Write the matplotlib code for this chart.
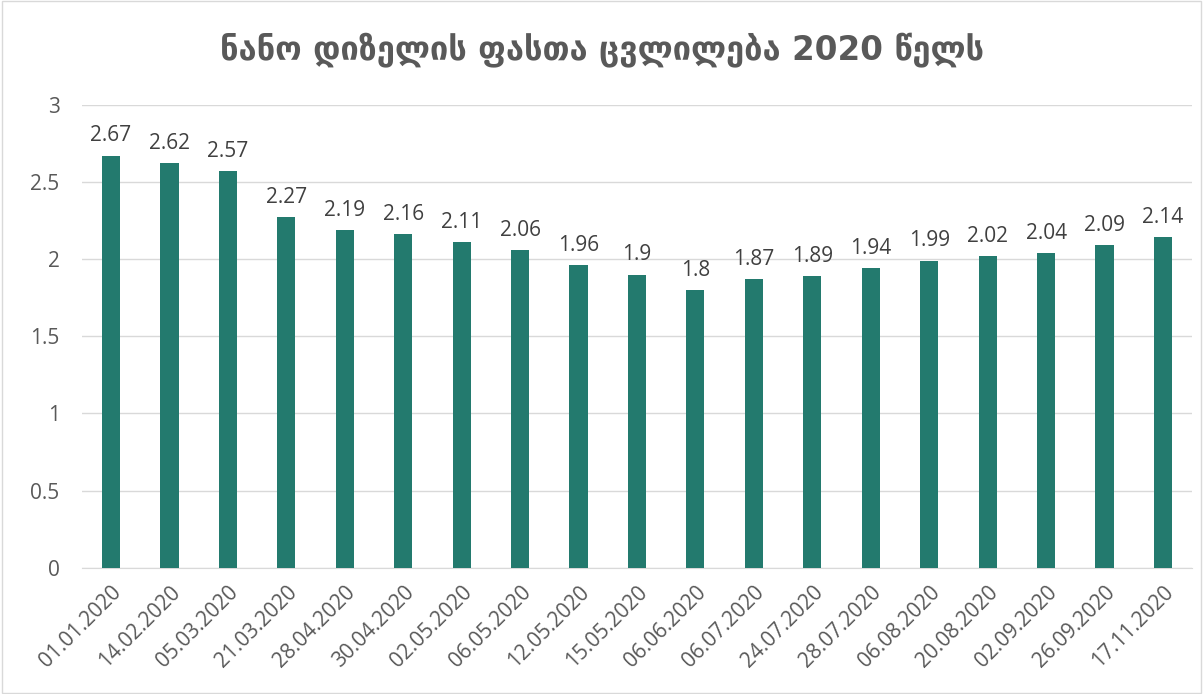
import matplotlib
matplotlib.use("Agg")
import matplotlib.pyplot as plt
import numpy as np

# dates and prices
dates = ['01.01.2020', '14.02.2020', '05.03.2020', '21.03.2020', '28.04.2020',
         '30.04.2020', '02.05.2020', '06.05.2020', '12.05.2020', '15.05.2020',
         '06.06.2020', '06.07.2020', '24.07.2020', '28.07.2020', '06.08.2020',
         '20.08.2020', '02.09.2020', '26.09.2020', '17.11.2020']
prices = [2.67, 2.62, 2.57, 2.27, 2.19, 2.16, 2.11, 2.06, 1.96, 1.9,
          1.8, 1.87, 1.89, 1.94, 1.99, 2.02, 2.04, 2.09, 2.14]
price_labels = ['2.67', '2.62', '2.57', '2.27', '2.19', '2.16', '2.11', '2.06', '1.96', '1.9',
                '1.8', '1.87', '1.89', '1.94', '1.99', '2.02', '2.04', '2.09', '2.14']
title = 'ნანო დიზელის ფასთა ცვლილება 2020 წელს'

txt = '#595959'
bar_col = '#237A6E'

fig = plt.figure(figsize=(12.03, 6.94), dpi=100)
ax = fig.add_axes([0.068, 0.182, 0.923, 0.667])

x = np.arange(len(dates))
bars = ax.bar(x, prices, width=0.31, color=bar_col, zorder=3)
for xi, v, lab in zip(x, prices, price_labels):
    ax.text(xi, v + 0.06, lab, ha='center', va='bottom', fontsize=15,
            color='#404040', family='Open Sans')

ax.set_xlim(-0.5, len(dates) - 0.5)
ax.set_ylim(0, 3)
ax.set_yticks([0, 0.5, 1, 1.5, 2, 2.5, 3])
ax.set_yticklabels(['0', '0.5', '1', '1.5', '2', '2.5', '3'], family='Open Sans',
                   fontsize=15, color=txt)
ax.set_xticks(x)
ax.set_xticklabels(dates, rotation=45, ha='right', rotation_mode='anchor',
                   family='Open Sans', fontsize=15, color=txt)
ax.tick_params(length=0)
ax.tick_params(axis='y', pad=16)
ax.tick_params(axis='x', pad=10)
ax.grid(axis='y', color='#D9D9D9', linewidth=1, zorder=0)
for s in ['top', 'right', 'left']:
    ax.spines[s].set_visible(False)
ax.spines['bottom'].set_color('#D9D9D9')

fig.text(0.5, 0.928, title, ha='center', va='center', fontsize=23.5,
         fontweight='bold', color=txt, family='DejaVu Sans')

border = plt.Rectangle((0.002, 0.002), 0.996, 0.996, transform=fig.transFigure,
                       fill=False, edgecolor='#D9D9D9', linewidth=1)
fig.patches.append(border)

fig.savefig('out.png', dpi=100)
